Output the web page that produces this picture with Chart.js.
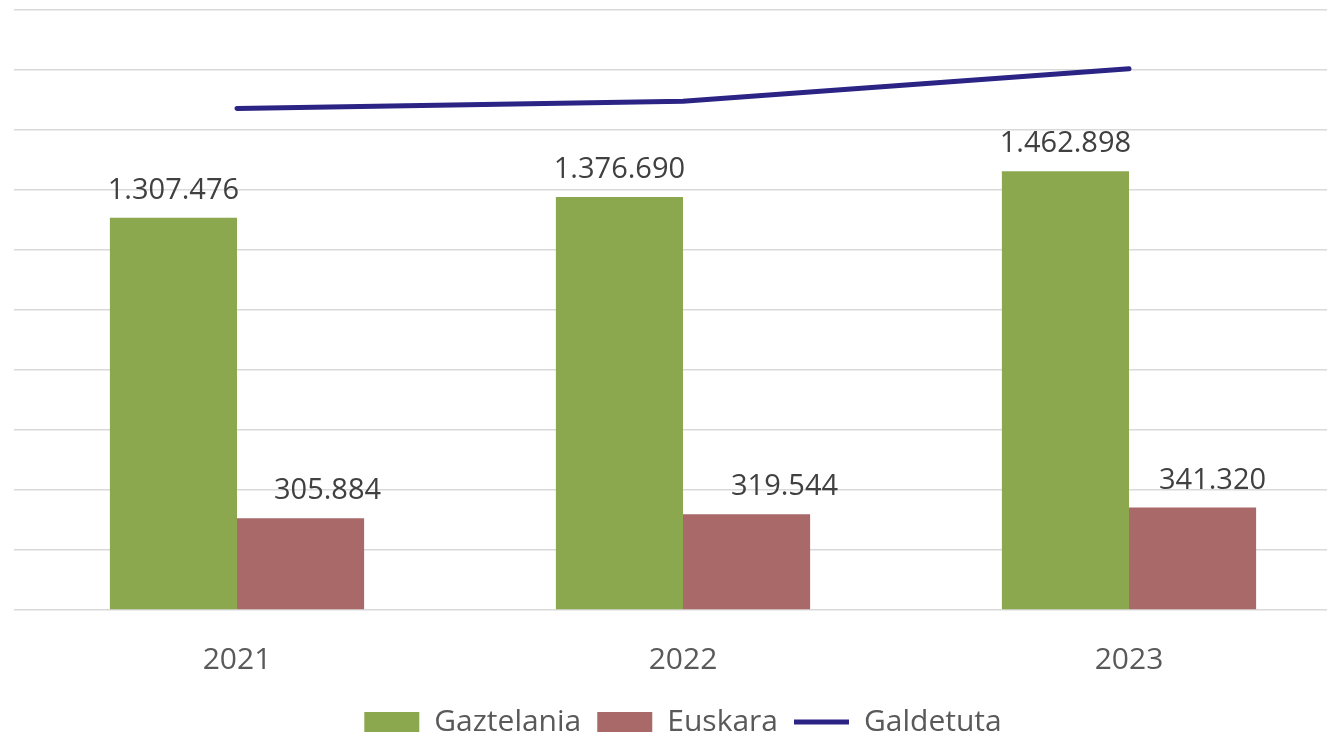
<!DOCTYPE html>
<html>
<head>
<meta charset="utf-8">
<script src="https://cdn.jsdelivr.net/npm/chart.js@4.4.0/dist/chart.umd.min.js"></script>
<style>
    html, body { margin: 0; padding: 0; background: #fff; overflow: hidden; }
    #wrap { width: 1366px; height: 738px; position: relative; }
</style>
</head>
<body>
<div id="wrap"><canvas id="langChart"></canvas></div>
<script>
// Chart data
const years = ['2021', '2022', '2023'];
const gaztelania = [1307476, 1376690, 1462898];
const euskara = [305884, 319544, 341320];
const galdetuta = [1672000, 1696234, 1804218];

const FONT = '"Open Sans", "Noto Sans", sans-serif';

function formatNumber(v) {
    return String(v).replace(/\B(?=(\d{3})+(?!\d))/g, '.');
}

// Draw value labels above the bars
const barLabels = {
    id: 'barLabels',
    afterDatasetsDraw(chart, args, opts) {
        const ctx = chart.ctx;
        ctx.save();
        ctx.font = '29px ' + FONT;
        ctx.fillStyle = '#404040';
        ctx.textAlign = 'center';
        ctx.textBaseline = 'alphabetic';
        chart.data.datasets.forEach((ds, i) => {
            if (ds.type === 'line') return;
            const meta = chart.getDatasetMeta(i);
            const shift = (opts.shift && opts.shift[i]) || [];
            meta.data.forEach((bar, j) => {
                ctx.fillText(formatNumber(ds.data[j]), bar.x + (shift[j] || 0), bar.y - 19);
            });
        });
        ctx.restore();
    }
};

document.addEventListener('DOMContentLoaded', function() {
    const ctx = document.getElementById('langChart');

    new Chart(ctx, {
        data: {
            labels: years,
            datasets: [{
                type: 'bar',
                label: 'Gaztelania',
                data: gaztelania,
                backgroundColor: '#8ba84f',
                categoryPercentage: 0.57,
                barPercentage: 1.0
            }, {
                type: 'bar',
                label: 'Euskara',
                data: euskara,
                backgroundColor: '#a86968',
                categoryPercentage: 0.57,
                barPercentage: 1.0
            }, {
                type: 'line',
                label: 'Galdetuta',
                data: galdetuta,
                borderColor: '#2b2485',
                backgroundColor: '#2b2485',
                borderWidth: 5,
                borderCapStyle: 'round',
                pointRadius: 0,
                tension: 0,
                fill: false
            }]
        },
        options: {
            responsive: true,
            maintainAspectRatio: false,
            animation: false,
            layout: {
                padding: { top: 10, left: 14, right: 14, bottom: -9 }
            },
            plugins: {
                tooltip: { enabled: false },
                legend: {
                    position: 'bottom',
                    labels: {
                        usePointStyle: true,
                        pointStyleWidth: 55,
                        boxHeight: 20,
                        padding: 16,
                        color: '#595959',
                        font: { family: FONT, size: 30 },
                        generateLabels: function(chart) {
                            const items = Chart.defaults.plugins.legend.labels.generateLabels(chart);
                            items.forEach(item => {
                                const ds = chart.data.datasets[item.datasetIndex];
                                item.pointStyle = ds.type === 'line' ? 'line' : 'rect';
                            });
                            return items;
                        }
                    }
                },
                barLabels: {
                    shift: { 1: [27, 38, 20] }
                }
            },
            scales: {
                x: {
                    grid: { display: false, drawTicks: false },
                    border: { display: false },
                    ticks: {
                        color: '#595959',
                        padding: 32,
                        font: { family: FONT, size: 30 }
                    },
                    afterFit: function(scale) {
                        scale.height = 81;
                    }
                },
                y: {
                    min: 0,
                    max: 2000000,
                    grid: { color: '#d9d9d9', lineWidth: 1.5, drawTicks: false },
                    border: { display: false },
                    ticks: { display: false, stepSize: 200000 }
                }
            }
        },
        plugins: [barLabels]
    });
});
</script>
</body>
</html>
